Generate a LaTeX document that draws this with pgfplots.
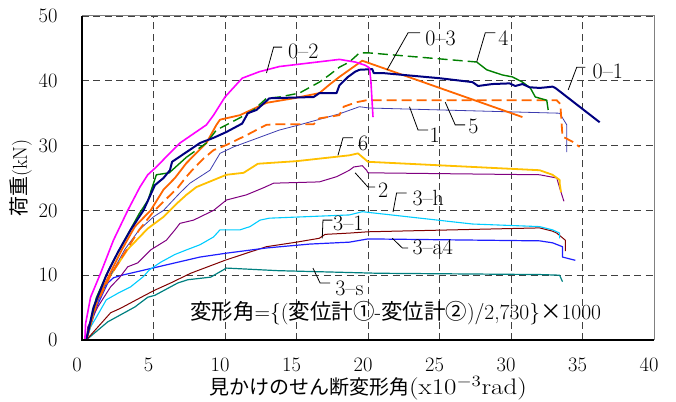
\documentclass[border=0pt]{standalone}
\usepackage{fontspec}
\usepackage{graphicx}
\usepackage{pgfplots}
\pgfplotsset{compat=1.18}
\newfontfamily\jp{Noto Sans CJK JP}
\definecolor{cnavy}{RGB}{0,0,128}
\definecolor{cmag}{RGB}{255,0,255}
\definecolor{corange}{RGB}{255,102,0}
\definecolor{cgreen}{RGB}{0,128,0}
\definecolor{cslate}{RGB}{60,60,175}
\definecolor{cgold}{RGB}{255,192,0}
\definecolor{cpurple}{RGB}{128,0,128}
\definecolor{csky}{RGB}{0,204,255}
\definecolor{cmaroon}{RGB}{128,0,0}
\definecolor{cblue}{RGB}{30,30,255}
\definecolor{cteal}{RGB}{0,128,128}
\newcommand{\lbl}{\fontsize{22}{26}\selectfont}
\newcommand{\albl}{\fontsize{21.5}{26}\selectfont}
\newcommand{\xlbl}{\fontsize{20}{24}\selectfont}
\newcommand{\tlbl}{\fontsize{20.5}{24}\selectfont}
\begin{document}
\begin{tikzpicture}[x=1pt,y=1pt]
\useasboundingbox (-82,-61) rectangle (594,340);
\begin{axis}[at={(0,0)},anchor=south west,
  width=572pt,height=324pt,scale only axis,
  xmin=0,xmax=40,ymin=0,ymax=50,
  xtick={0,5,...,40},ytick={0,10,...,50},
  xmajorgrids,ymajorgrids,
  major grid style={dash pattern=on 7pt off 4.5pt,black!75,line width=0.9pt},
  tick style={draw=none},
  axis line style={draw=none},
  /pgf/number format/assume math mode=true,
  ticklabel style={font=\tlbl},
  xticklabel style={yshift=-14pt,xshift=-5pt},
  yticklabel style={xshift=-21pt},
  xlabel={{\jp 見かけのせん断変形角}\scalebox{1.35}[1.12]{(x10\textsuperscript{$-$3}rad)}},
  ylabel={{\jp 荷重}(kN)},
  xlabel style={at={(axis description cs:0.5,-0.148)},anchor=center,font=\xlbl},
  ylabel style={at={(axis description cs:-0.1066,0.5)},anchor=center,font=\xlbl},
  clip=false,
  every axis plot/.append style={line join=round}
]
% 3-s teal
\addplot[cteal,line width=1.2pt] coordinates {(0.3,0)(1.8,2.8)(3.7,5.1)(4.6,6.6)(5.1,6.9)(6.7,8.8)(7.4,9.3)(9.0,9.7)(10.1,11.1)(13.7,10.7)(20.7,10.3)(32.0,10.1)(33.4,10.0)(33.6,9.0)};
% 3-1 maroon
\addplot[cmaroon,line width=1pt] coordinates {(0.3,0)(2.0,4.2)(2.7,4.9)(4.4,6.9)(5.1,7.7)(6.2,8.8)(7.6,10.3)(10.0,12.3)(11.5,13.4)(12.9,14.4)(15.0,15.1)(16.6,15.7)(17.0,16.3)(18.7,16.5)(20.0,16.7)(32.0,17.3)(32.9,16.8)(33.2,16.5)(33.8,15.4)(33.8,13.7)};
% 3-a4 blue
\addplot[cblue,line width=1.2pt] coordinates {(0.3,0)(1.0,5)(1.8,8.8)(2.2,9.6)(2.8,10)(4.75,11)(8.25,12.8)(10.1,13.4)(12.9,14.2)(15.9,14.8)(18.7,15.1)(20.0,15.6)(32.0,15.3)(32.9,15.0)(33.6,14.4)(33.6,12.8)(34.5,12.3)};
% 3-h sky
\addplot[csky,line width=1.1pt] coordinates {(0.3,0)(0.6,2)(1.0,3.5)(1.7,6.2)(2.5,7.2)(3.4,8.2)(4.3,9.8)(4.7,10.8)(5.5,12)(6.5,13.2)(7.3,13.9)(8.25,14.7)(9.2,15.9)(9.65,17)(11.05,17)(11.75,17.5)(12.45,18.5)(13.1,18.8)(18.7,19.3)(19.6,19.8)(27.3,17.9)(32.0,17.5)(32.9,17.0)(33.4,16.5)(33.4,15.7)};
% 2 purple
\addplot[cpurple,line width=1pt] coordinates {(0.3,0)(0.4,2)(1.1,5.1)(2.0,8.2)(2.65,9.7)(3.2,11.3)(3.9,11.9)(4.8,13.9)(5.9,15.4)(6.5,17)(6.85,18)(7.8,18.5)(9.2,20.0)(10.1,21.6)(11.5,22.4)(12.7,23.5)(13.4,24.2)(16.6,24.4)(17.8,25.2)(18.7,26.2)(19.0,26.7)(19.6,26.9)(19.9,26.2)(20.0,25.8)(32.0,25.5)(33.2,25.0)(33.4,23.5)(33.7,21.4)};
% 6 gold
\addplot[cgold,line width=1.8pt] coordinates {(0.3,0)(1.0,6)(2.0,10)(3.2,14)(4.6,17.2)(5.7,19.0)(6.6,21.0)(7.3,22.4)(8.0,23.6)(10.1,25.5)(11.3,25.8)(12.3,27.2)(15.0,27.6)(18.7,28.5)(19.3,28.8)(20.0,27.5)(32.0,26.2)(32.9,25.5)(33.4,24.7)(33.4,24.2)(33.5,22.8)};
% 1 slate
\addplot[cslate,line width=0.8pt] coordinates {(0.3,0)(1,5.5)(2,10)(3,14)(4,17)(5,19)(5.7,20)(6.85,22.7)(7.55,24.2)(8.95,26.2)(9.65,28.8)(10.6,29.8)(12.45,31.3)(13.8,32.4)(15.2,33.2)(18,34.9)(19.4,36.0)(20.1,35.8)(33.4,35.0)(33.9,33.2)(33.9,29.0)};
% 5 orange dashed
\addplot[corange,line width=1.8pt,dash pattern=on 10pt off 5pt] coordinates {(0.3,0)(1,5.5)(2,10)(3,13.5)(4,17)(5,19.8)(6,22)(6.7,23.5)(7.3,25.2)(7.7,26.2)(8.5,28)(9.2,29.3)(10.1,30.1)(11.5,31.6)(12.45,32.7)(12.9,33.2)(13.6,33.3)(16.2,33.3)(16.6,34.2)(18.0,34.7)(18.3,36)(19.2,36.7)(19.9,37.0)(33.2,37.0)(33.45,36.4)(33.6,31.4)(34.3,30.6)(34.8,29.8)};
% 0-3 orange solid
\addplot[corange,line width=1.8pt] coordinates {(0.3,0)(1,6)(1.9,10)(2.8,14)(3.7,17.5)(4.8,20)(5.7,23.2)(6.5,25)(7.3,27.3)(8.7,30.4)(9.4,33.2)(9.65,34)(11.05,34.7)(12.9,36.6)(14.8,37.3)(16.6,38.1)(17.3,39.4)(18.0,40.6)(19.6,43.1)(30.8,34.4)};
% 4 green
\addplot[cgreen,line width=1.4pt] coordinates {(0.3,0)(1,6.5)(1.9,11)(3,15.5)(4,19.5)(4.6,21.5)(5.2,25.5)(6.1,25.8)(7.3,28.2)};
\addplot[cgreen,line width=1.4pt,dash pattern=on 10pt off 5pt] coordinates {(7.3,28.2)(8.7,30.4)(9.4,32.4)(10.1,33.2)(11.05,34.3)(12.0,35.5)(12.9,37.3)(13.8,37.5)(15.2,38.1)(16.6,39.8)(17.3,40.9)(18.0,42.1)(18.7,42.9)(19.4,44.3)(20.1,44.3)(27.6,42.9)};
\addplot[cgreen,line width=1.4pt] coordinates {(27.6,42.9)(28.3,41.7)(29.4,40.9)(30.1,40.6)(30.8,39.8)(31.35,38.9)(31.7,37.5)(32.5,37.0)(32.6,35.5)};
% 0-1 navy
\addplot[cnavy,line width=2pt] coordinates {(0.3,0)(0.8,5)(1.7,10)(2.5,13.5)(3.4,17)(4.3,20)(5.1,23.9)(5.7,25)(6.15,26.2)(6.3,27.5)(8.25,30.4)(9.2,31.2)(10.1,32.1)(11.2,33.4)(11.6,35)(12.2,35.5)(13.1,37.3)(16.2,37.5)(16.6,38.1)(17.8,38.1)(18.0,39.3)(18.6,40.6)(19.1,41.4)(19.4,41.7)(20.3,41.8)(20.4,41.2)(21.0,41.2)(25.0,40.4)(27.3,39.8)(27.7,39.2)(28.7,39.5)(29.9,39.6)(30.3,39.2)(30.8,39.5)(31.3,39.0)(32.0,38.9)(32.5,39.0)(32.9,39.1)(33.1,38.9)(36.2,33.6)};
% 0-2 magenta
\addplot[cmag,line width=1.6pt] coordinates {(0.2,0)(0.25,2.5)(0.6,6.6)(1.3,10.3)(2.2,15.4)(3.2,20)(4.05,23.6)(4.6,25.5)(5.1,26.5)(6.85,30.4)(8.7,33.2)(9.2,34.7)(10,37.5)(11.2,40.4)(12.4,41.4)(13.8,42.2)(18.0,43.3)(19.1,42.9)(19.8,42.4)(20.1,42)(20.2,40)(20.35,34.4)};
% leaders
\begin{scope}[black,line width=0.8pt]
\draw (axis cs:12.9,41.2)--(axis cs:13.4,45.2)--(axis cs:14.0,45.2);
\draw (axis cs:21.33,41.67)--(axis cs:22.8,47.4)--(axis cs:23.64,47.4);
\draw (axis cs:27.6,42.9)--(axis cs:28.2,47.4)--(axis cs:28.9,47.4);
\draw (axis cs:34.0,38.6)--(axis cs:34.6,42.1)--(axis cs:35.2,42.1);
\draw (axis cs:22.9,36.0)--(axis cs:23.5,32.4)--(axis cs:24.2,32.4);
\draw (axis cs:25.4,36.7)--(axis cs:26.1,33.2)--(axis cs:26.8,33.2);
\draw (axis cs:17.9,28.5)--(axis cs:18.25,31.2)--(axis cs:18.95,31.2);
\draw (axis cs:19.1,25.8)--(axis cs:20.0,23.6)--(axis cs:20.5,23.6);
\draw (axis cs:21.75,19.75)--(axis cs:22.0,22.7)--(axis cs:22.7,22.7);
\draw (axis cs:16.8,15.7)--(axis cs:16.85,18.5)--(axis cs:17.5,18.5);
\draw (axis cs:21.7,15.7)--(axis cs:22.4,14.2)--(axis cs:22.8,14.2);
\draw (axis cs:16.15,11.1)--(axis cs:16.65,8.8)--(axis cs:17.35,8.8);
\end{scope}
\begin{scope}[every node/.style={anchor=west,font=\lbl,inner sep=0pt}]
\node at (axis cs:14.4,44.6) {0--2};
\node at (axis cs:24.0,46.6) {0--3};
\node at (axis cs:29.1,46.6) {4};
\node at (axis cs:35.7,41.4) {0--1};
\node at (axis cs:24.3,31.6) {1};
\node at (axis cs:27.0,32.9) {5};
\node at (axis cs:19.3,30.4) {6};
\node at (axis cs:20.7,23.1) {2};
\node at (axis cs:23.1,21.9) {3--h};
\node at (axis cs:17.55,18.05) {3--1};
\node at (axis cs:23.1,14.35) {3--a4};
\node at (axis cs:17.7,8.0) {3--s};
\node[font=\albl] at (axis cs:7.55,4.2) {{\jp 変形角}=\{({\jp 変位計①}-{\jp 変位計②})/2,730\}{\jp ×}1000};
\end{scope}
\draw[gray,line width=1pt] (rel axis cs:0,1)--(rel axis cs:1,1)--(rel axis cs:1,0);
\draw[black,line width=1.2pt] (rel axis cs:0,1)--(rel axis cs:0,0)--(rel axis cs:1,0);
\end{axis}
\end{tikzpicture}
\end{document}
